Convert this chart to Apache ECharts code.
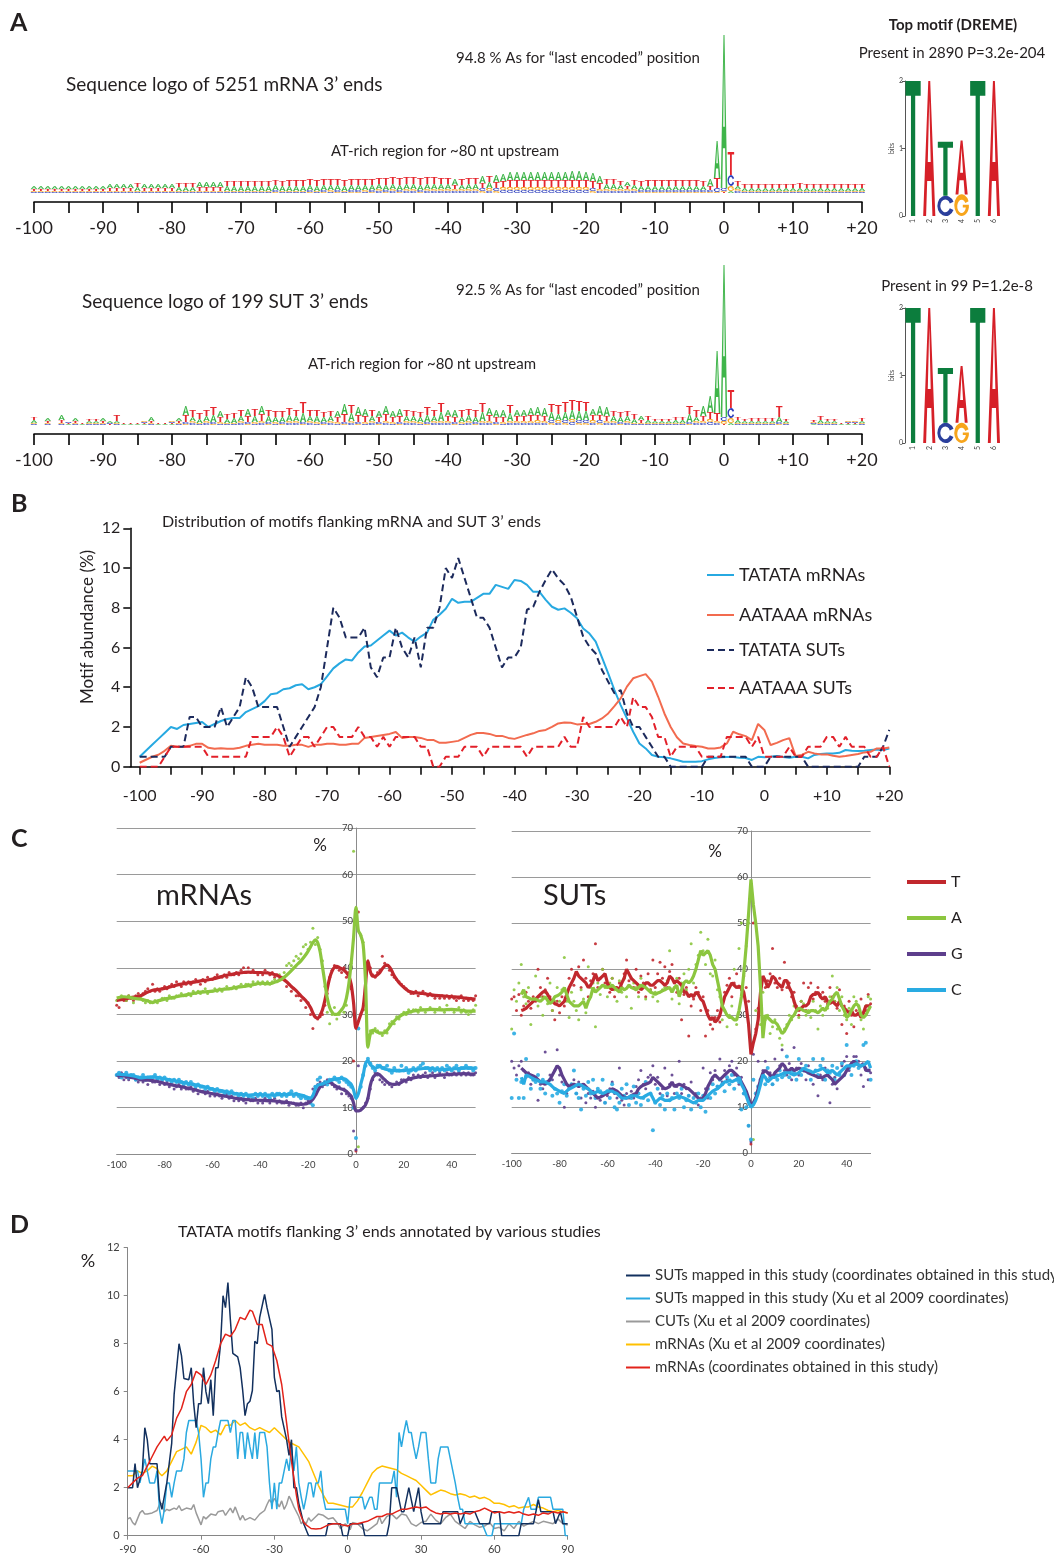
<!DOCTYPE html>
<html>
<head>
<meta charset="utf-8">
<title>3' end motifs</title>
<script src="https://cdn.jsdelivr.net/npm/echarts@6/dist/echarts.min.js"></script>
<style>
  html, body { margin: 0; padding: 0; background: #ffffff; }
  #chart { width: 1054px; height: 1560px; }
</style>
</head>
<body>
<div id="chart"></div>
<script>
const FONT = 'Lato, "Open Sans", "DejaVu Sans", sans-serif';
const INK = '#231f20';

// ---------- Panel A: sequence logos, letter heights in bits, positions -100..+20 ----------
const mrnaLogoA = [.03,.03,.03,.03,.03,.03,.03,.03,.03,.03,
  .03,.04,.04,.04,.04,.04,.04,.04,.04,.04,
  .04,.04,.04,.04,.05,.05,.05,.05,.05,.05,
  .05,.05,.05,.05,.05,.05,.05,.05,.05,.05,
  .05,.05,.05,.05,.05,.05,.05,.05,.05,.05,
  .05,.05,.05,.05,.05,.05,.05,.05,.05,.05,
  .05,.06,.04,.05,.05,.07,.06,.07,.07,.08,
  .08,.08,.08,.08,.08,.08,.08,.08,.09,.09,
  .08,.08,.07,.05,.05,.04,.04,.04,.04,.04,
  .04,.04,.04,.04,.04,.04,.04,.04,.07,.37,
  1.53,.02,.03,.03,.03,.03,.03,.03,.03,.03,
  .03,.03,.03,.03,.03,.03,.03,.03,.03,.03,.03];
const mrnaLogoT = [.02,.02,.02,.02,.02,.02,.02,.02,.02,.02,
  .02,.03,.03,.03,.03,.04,.03,.03,.03,.03,
  .03,.04,.04,.04,.04,.04,.04,.04,.05,.05,
  .05,.05,.05,.05,.05,.05,.05,.06,.06,.06,
  .06,.06,.06,.06,.06,.06,.06,.06,.06,.06,
  .06,.07,.07,.07,.07,.07,.07,.07,.07,.06,
  .06,.04,.06,.06,.06,.05,.06,.06,.06,.07,
  .07,.07,.07,.07,.07,.07,.07,.07,.07,.07,
  .07,.07,.06,.05,.05,.04,.03,.05,.05,.06,
  .06,.06,.06,.06,.06,.06,.06,.05,.04,.10,
  .01,.23,.05,.04,.04,.04,.04,.04,.04,.04,
  .04,.05,.04,.04,.04,.04,.04,.04,.04,.04,.04];
const mrnaLogoC = [.01,.01,.01,.01,.01,.01,.01,.01,.01,.01,
  .01,.01,.01,.01,.01,.01,.01,.01,.01,.01,
  .01,.01,.01,.01,.01,.01,.01,.01,.01,.01,
  .01,.01,.01,.01,.01,.02,.01,.01,.01,.01,
  .02,.01,.02,.01,.02,.01,.02,.02,.01,.02,
  .02,.02,.02,.02,.02,.02,.02,.02,.02,.02,
  .02,.02,.02,.02,.02,.03,.02,.03,.03,.03,
  .03,.03,.03,.03,.03,.03,.03,.03,.03,.03,
  .03,.03,.02,.02,.02,.02,.02,.02,.02,.02,
  .02,.02,.02,.02,.02,.02,.02,.02,.02,.04,
  .03,.11,.02,.01,.01,.01,.01,.01,.01,.01,
  .01,.01,.01,.01,.01,.01,.01,.01,.01,.01,.01];
const mrnaLogoG = [.01,.01,.01,.01,.01,.01,.01,.01,.01,.01,
  .01,.01,.01,.01,.01,.01,.01,.01,.01,.01,
  .01,.01,.01,.01,.01,.01,.01,.01,.01,.01,
  .01,.01,.01,.01,.01,.01,.01,.01,.01,.01,
  .01,.01,.01,.02,.01,.01,.01,.01,.02,.01,
  .02,.01,.02,.01,.02,.02,.01,.02,.02,.02,
  .02,.02,.02,.02,.02,.02,.03,.02,.03,.03,
  .03,.03,.03,.03,.03,.03,.03,.03,.03,.03,
  .03,.02,.02,.02,.02,.02,.02,.02,.01,.01,
  .01,.01,.01,.01,.01,.01,.01,.01,.01,.01,
  .01,.05,.02,.01,.01,.01,.01,.01,.01,.01,
  .01,.01,.01,.01,.01,.01,.01,.01,.01,.01,.01];

const sutLogoA = [.03,0,.03,0,.05,.01,.03,.01,.02,.02,
  .03,.02,.02,.01,.01,.01,.01,.04,.01,.01,
  .01,.03,.09,.04,.04,.05,.07,.06,.04,.05,
  .05,.07,.06,.08,.06,.05,.05,.06,.05,.09,
  .05,.06,.05,.05,.06,.1,.08,.08,.07,.05,
  .06,.08,.06,.07,.05,.05,.05,.07,.05,.09,
  .06,.07,.05,.06,.05,.09,.07,.07,.07,.08,
  .06,.06,.07,.08,.08,.08,.06,.08,.09,.09,
  .09,.06,.09,.09,.05,.05,.05,.04,.04,.03,
  .02,.02,.02,.03,.03,.08,.04,.1,.16,.62,
  1.52,.02,.03,.02,.02,.02,.02,.02,.05,.02,
  0,0,0,.01,.03,.02,.02,.01,.01,.01,.02];
const sutLogoT = [.03,0,.02,0,.03,.01,.02,.01,.02,.02,
  .02,.01,.06,.01,.01,.01,.01,.02,.01,.01,
  .01,.02,.07,.07,.06,.06,.08,.05,.05,.05,
  .06,.06,.07,.07,.06,.06,.06,.07,.06,.11,
  .06,.06,.05,.05,.05,.08,.08,.07,.06,.06,
  .05,.07,.05,.06,.06,.05,.05,.08,.06,.09,
  .05,.05,.07,.06,.07,.09,.06,.05,.05,.08,
  .05,.05,.06,.05,.05,.08,.09,.1,.1,.1,
  .09,.05,.05,.05,.05,.05,.05,.05,.03,.04,
  .02,.02,.02,.03,.03,.08,.07,.05,.07,.08,
  .01,.18,.03,.02,.03,.03,.03,.03,.11,.02,
  0,0,0,.02,.04,.02,.02,.01,.01,.01,.03];
const sutLogoC = [.01,0,.01,0,.01,.01,.01,0,.01,.01,
  .01,.01,.01,0,0,0,.01,.01,0,0,
  .01,.01,.02,.02,.01,.02,.02,.01,.01,.01,
  .02,.02,.01,.02,.02,.01,.02,.02,.02,.02,
  .02,.01,.02,.02,.01,.02,.02,.02,.01,.02,
  .02,.02,.01,.02,.02,.02,.01,.02,.02,.02,
  .02,.02,.01,.02,.02,.02,.02,.02,.01,.02,
  .02,.02,.02,.02,.02,.03,.02,.03,.03,.03,
  .03,.02,.03,.02,.02,.02,.02,.01,.01,.01,
  .01,.01,.01,.01,.01,.02,.02,.02,.03,.02,
  .04,.10,.01,.01,.01,.01,.01,.01,.02,.01,
  0,0,0,.01,.01,.01,.01,0,.01,.01,.01];
const sutLogoG = [.01,0,.01,0,.01,0,.01,0,.01,.01,
  .01,0,.01,0,0,0,.01,.01,0,0,
  .01,.01,.01,.02,.01,.02,.01,.02,.01,.01,
  .02,.01,.02,.02,.01,.02,.01,.02,.02,.01,
  .02,.02,.01,.02,.02,.01,.02,.01,.02,.02,
  .01,.02,.02,.01,.02,.02,.02,.01,.02,.02,
  .02,.01,.02,.02,.01,.02,.02,.01,.02,.02,
  .02,.02,.02,.03,.02,.02,.03,.02,.03,.02,
  .02,.03,.02,.02,.02,.01,.02,.01,.01,.01,
  .01,.01,.01,.01,.01,.01,.02,.02,.03,.02,
  .03,.05,.01,.01,.01,.01,.01,.01,.01,.01,
  0,0,0,.01,.01,.01,.01,0,.01,.01,.01];

// DREME top motif TATATA (bits), positions 1..6
const motif1A = [0, 2, 0, 0.8, 0, 2];
const motif1T = [2, 0, 0.8, 0, 2, 0];
const motif1C = [0, 0, 0.3, 0, 0, 0];
const motif1G = [0, 0, 0, 0.32, 0, 0];
const motif2A = [0, 2, 0, 0.84, 0, 2];
const motif2T = [2, 0, 0.81, 0, 2, 0];
const motif2C = [0, 0, 0.3, 0, 0, 0];
const motif2G = [0, 0, 0, 0.3, 0, 0];

// ---------- Panel B: motif abundance (%), positions -100..+20 ----------
const tatataMrna = [0.5,0.8,1.1,1.4,1.7,2.0,1.9,2.1,2.15,2.2,
  2.25,2.0,2.15,2.3,2.4,2.45,2.45,2.75,2.9,3.05,
  3.3,3.65,3.7,3.9,3.95,4.1,4.15,3.9,4.0,4.15,
  4.55,4.95,5.2,5.4,5.35,5.75,6.05,6.1,6.35,6.6,
  6.85,6.6,6.75,6.5,6.3,6.55,6.75,7.4,7.65,7.95,
  8.45,8.25,8.3,8.3,8.5,8.7,8.7,9.15,9.05,8.95,
  9.4,9.35,9.15,8.8,8.8,8.4,8.05,7.9,7.97,7.75,
  7.47,6.96,6.7,6.3,5.5,4.7,3.86,3.1,2.43,1.76,
  1.17,0.92,0.59,0.5,0.47,0.42,0.34,0.25,0.25,0.25,
  0.28,0.37,0.44,0.47,0.49,0.49,0.45,0.44,0.34,0.5,
  0.47,0.5,0.54,0.49,0.45,0.5,0.5,0.42,0.59,0.64,
  0.67,0.67,0.7,0.84,0.8,0.79,0.8,0.84,0.87,0.84,0.92];
const aataaaMrna = [0.2,0.35,0.5,0.6,0.8,1.05,1.0,1.0,1.05,1.15,
  1.15,0.95,0.9,0.93,0.9,0.9,0.95,1.05,1.1,1.15,
  1.1,1.1,1.1,1.05,1.05,1.1,1.1,1.0,1.1,1.1,
  1.15,1.15,1.1,1.1,1.15,1.15,1.45,1.5,1.55,1.6,
  1.65,1.75,1.45,1.5,1.5,1.45,1.35,1.35,1.2,1.2,
  1.25,1.3,1.45,1.6,1.7,1.7,1.65,1.55,1.55,1.45,
  1.4,1.5,1.6,1.68,1.8,1.85,2.0,2.18,2.23,2.21,
  2.13,2.15,2.15,2.26,2.43,2.68,3.05,3.44,4.03,4.45,
  4.56,4.66,4.28,3.52,2.68,2.0,1.48,1.17,1.09,1.04,
  1.0,0.92,0.92,0.97,1.17,1.76,1.63,1.54,1.34,2.15,
  1.85,1.09,1.2,1.34,1.44,0.54,0.59,0.75,0.67,0.62,
  0.62,0.55,0.5,0.54,0.59,0.64,0.72,0.75,0.92,0.92,0.97];
const tatataSut = [0.5,0.5,0.5,0.5,0.5,1.0,1.0,1.0,2.5,2.5,
  2.0,2.0,2.0,3.0,2.0,2.5,3.0,4.5,4.0,3.0,
  3.0,3.0,3.0,2.0,1.0,1.5,2.0,2.5,3.0,4.0,
  6.0,8.0,7.5,6.5,6.5,6.5,7.0,5.0,4.5,5.5,
  5.5,7.0,6.0,5.5,6.5,5.0,7.0,7.0,8.0,10.0,
  9.5,10.5,9.5,8.5,7.5,7.5,7.0,6.0,5.0,5.5,
  5.5,6.0,7.9,8.05,8.8,9.4,9.93,9.48,9.15,8.56,
  7.55,6.54,6.04,5.7,4.87,4.28,3.69,3.86,2.68,2.0,
  2.0,1.5,1.0,0.5,0.5,0,0,0,0,0,
  0,0.5,0.5,0.5,0.5,0.5,0.5,0.5,0,0,
  0,0.5,0.5,0.5,0.5,0.5,0.5,0,0,0,
  0,0,0,0,0,0,0.5,0.5,0.5,1.0,1.85];
const aataaaSut = [0,0,0,0,0.5,1.0,1.0,1.0,1.0,1.0,
  1.0,0.5,0.5,0.5,0.5,0.5,0.5,0.5,1.5,1.5,
  1.5,1.5,2.0,1.5,0.5,1.0,1.5,1.5,1.0,1.5,
  2.0,2.0,1.5,1.5,1.5,2.0,1.5,1.5,1.0,1.5,
  1.0,1.5,1.5,1.5,1.5,1.0,1.0,0,0,0.5,
  0.5,0.5,1.0,1.0,1.0,0.5,1.0,1.0,1.0,1.0,
  1.0,1.0,0.5,1.0,1.0,1.0,1.0,1.0,1.5,1.0,
  1.0,2.5,2.0,2.0,2.0,2.0,2.0,2.5,2.0,3.5,
  3.0,3.0,2.5,1.5,1.5,0.5,1.0,1.0,1.0,1.0,
  0.5,0.5,0.5,0.5,1.5,1.5,1.5,1.5,1.0,1.5,
  0.5,0.5,0.5,0.5,1.0,0.5,0.5,1.0,1.0,1.0,
  1.5,1.5,1.0,1.5,1.0,1.0,1.0,0.5,0.5,1.0,0];

// ---------- Panel C: nucleotide composition (%) ----------
// smoothed profiles for mRNAs, [position, %]
const mrnaLineT = [[-100,33],[-97,33.3],[-95,33.5],[-92,33.8],[-90,34],[-87,34.8],[-85,35.2],[-82,35.4],[-80,35.6],[-77,36],[-75,36.3],[-72,36.6],[-70,36.8],[-67,37],[-65,37.2],[-62,37.4],[-60,37.6],[-57,38],[-55,38.3],[-52,38.6],[-50,38.8],[-47,39],[-45,39.1],[-42,39],[-40,39],[-37,38.9],[-35,38.7],[-33,38.4],[-31,37.8],[-29,37],[-27,36],[-25,35.1],[-23,34],[-21,33],[-19,31.5],[-18,30.3],[-17,29.4],[-16,29.2],[-15,29.8],[-14,31],[-13,33],[-12,35.5],[-11,37.8],[-10,39.3],[-9,40.1],[-8,40.3],[-7,40.1],[-6,39.8],[-5,39.5],[-4,39],[-3,38.3],[-2,36.5],[-1,32.5],[0,27],[1,28.5],[2,30],[3,31.5],[4,36.5],[5,41.5],[6,39.2],[7,38.2],[8,38.2],[9,38.5],[10,39],[11,39.8],[12,40.4],[13,40.6],[14,40.2],[15,39.3],[16,38.3],[17,37.5],[18,36.8],[20,35.8],[22,35],[24,34.7],[26,34.6],[28,34.5],[30,34.3],[33,34.1],[36,34],[40,33.8],[43,33.7],[46,33.5],[50,33.3]];
const mrnaLineA = [[-100,33.5],[-97,33.8],[-95,33.7],[-92,33.4],[-90,33.3],[-87,32.9],[-85,32.6],[-83,32.9],[-80,33.3],[-77,33.6],[-75,33.8],[-72,34.1],[-70,34.3],[-67,34.6],[-65,34.8],[-62,34.9],[-60,35],[-57,35.3],[-55,35.4],[-52,35.6],[-50,35.8],[-47,36],[-45,36.2],[-42,36.5],[-40,36.7],[-37,36.6],[-35,36.7],[-33,37.1],[-31,37.6],[-29,38.4],[-27,39.4],[-25,40.5],[-23,41.5],[-21,42.8],[-20,43.6],[-19,44.5],[-18,45.4],[-17,46],[-16,45.4],[-15,43.5],[-14,40.2],[-13,36.8],[-12,33.5],[-11,31.5],[-10,30.5],[-9,30],[-8,30],[-7,30.4],[-6,31],[-5,31.8],[-4,33.5],[-3,36.5],[-2,41],[-1,46.5],[0,53],[1,48],[2,47],[3,45],[4,37],[5,23],[6,25.8],[7,26.6],[8,26.5],[9,26.2],[10,26],[11,26],[12,26.1],[13,26.6],[14,27.3],[15,28],[16,28.6],[17,29.1],[18,29.5],[20,30.1],[22,30.5],[25,30.8],[28,31],[32,31.1],[36,31],[40,31.1],[44,30.9],[47,30.7],[50,30.7]];
const mrnaLineG = [[-100,17],[-97,16.8],[-95,16.6],[-92,16.3],[-90,16],[-87,15.9],[-85,15.8],[-82,15.5],[-80,15.2],[-77,14.9],[-75,14.7],[-72,14.4],[-70,14.2],[-67,13.8],[-65,13.5],[-62,13.2],[-60,13],[-57,12.7],[-55,12.5],[-52,12.2],[-50,12],[-47,11.8],[-45,11.7],[-42,11.6],[-40,11.6],[-37,11.5],[-35,11.5],[-32,11.3],[-30,11.2],[-27,11],[-25,10.8],[-23,10.7],[-21,10.8],[-20,11],[-19,11.3],[-18,11.8],[-17,12.6],[-16,13.6],[-15,14.5],[-14,15],[-13,15.3],[-12,15.5],[-11,15.5],[-10,15.2],[-9,14.8],[-8,14.5],[-7,14.2],[-6,14],[-5,13.8],[-4,13.5],[-3,13],[-2,12.5],[-1,11],[0,9.3],[1,9.3],[2,9.5],[3,10],[4,10.6],[5,12],[6,14.8],[7,16.4],[8,17],[9,17.3],[10,17],[11,16.5],[12,16],[13,15.5],[14,15.2],[16,15],[18,15.2],[20,15.7],[22,16.1],[25,16.5],[28,16.7],[31,16.8],[35,17],[38,17.1],[41,17.2],[45,17.3],[48,17.2],[50,17.2]];
const mrnaLineC = [[-100,17.2],[-97,17.1],[-95,17],[-92,16.7],[-90,16.4],[-88,16.5],[-85,16.6],[-82,16.4],[-80,16.2],[-77,15.9],[-75,15.7],[-72,15.4],[-70,15.2],[-67,14.9],[-65,14.7],[-62,14.3],[-60,14],[-57,13.7],[-55,13.5],[-52,13.2],[-50,13],[-47,12.8],[-45,12.7],[-42,12.8],[-40,12.8],[-37,12.7],[-35,12.7],[-32,12.8],[-30,12.8],[-27,12.9],[-25,12.9],[-23,12.7],[-21,12.4],[-20,12.2],[-19,12],[-18,12.6],[-17,14],[-16,14.8],[-15,15],[-14,15.1],[-12,15.5],[-10,16],[-8,16.2],[-6,16.3],[-5,16.2],[-4,16],[-3,15.5],[-2,15],[-1,13.8],[0,12],[1,13],[2,15],[3,17],[4,19.5],[5,20.1],[6,19.2],[7,18.8],[8,18.5],[10,18.8],[12,18.3],[15,18],[18,17.9],[20,18],[23,18.1],[25,18.2],[28,18.4],[30,18.5],[33,18.3],[35,18.2],[38,18.2],[40,18.3],[43,18.4],[45,18.5],[48,18.5],[50,18.5]];

// per-position composition for mRNAs, positions -100..50
const mrnaDotT = [32,31.5,33.5,33,33,34,33.5,33,34,34.5,
  34,34.5,35,35.5,35,36.5,35,35.5,35,35.5,
  36,35.5,36,36.5,36,37,36.5,36,37,36.5,
  37,36.5,37,37.5,37,36.5,37.5,37,38,37.5,
  37.5,38,38.5,38,38,38.5,38,39,38.5,38.5,
  39,38.5,39.5,40,39,40,39,39.5,39,38.5,
  39,38.5,39.5,39,38.5,39,38,38.5,37.5,38,
  37.5,36,36.5,35,35.5,34,34,33,33.5,31.5,
  32.5,30,27,29.5,29,29.5,30,32,34.5,38,
  39.5,40.5,40,39.5,39,40,38,39,35.5,20,
  0.7,52,30,31,37,41,40,38.5,38,39,
  39.5,42.5,41,40.5,39.5,38.5,38,37.5,37,36.5,
  36,35.5,35,34.5,34.5,35,34,34.5,35,34.5,
  34,34.5,34,33.5,34,33.5,34,33.5,34,33.5,
  34,33.5,33,33.5,34,33,33.5,33,33.5,33,34];
const mrnaDotA = [33,33.5,34,33.5,33,34,33.5,32.5,33.5,34,
  33.5,33,32.5,33,32.5,32.5,33,32.5,33,33.5,
  33.5,33,34,33.5,33.5,34,34,34.5,34,34,
  34.5,34,35,34.5,35,34.5,35,35.5,34.5,35,
  35,35.5,35,35.5,35,35.5,36,35.5,35.5,36,
  35.5,36,36.5,36,36.5,36.5,36,37,36.5,37,
  36.5,37,36.5,37,36.5,37,37.5,37,38.5,38,
  39,40.5,41,40.5,41.5,42.5,42,43,44.5,45,
  44,45.5,48.5,45,46.5,44,41.5,36,30.5,28,
  30,31.5,29,30,31,30.5,32,36,41,65,
  94.8,1.6,47,45.5,31,25,26.5,26,27,26.5,
  26,25.5,26.5,26,28,28.5,28,29.5,29,30,
  30.5,30,31,30.5,31,31,30.5,31.5,31,30.5,
  31,31.5,31,30.5,31,31.5,31,30.5,32,31,
  31,30.5,31,31.5,30.5,31,30.5,30,30.5,31,32];
const mrnaDotG = [17,16.5,17.5,16,16.5,16,17,16.5,16,15.5,
  16,15.5,16.5,15,16,15.5,15.5,16,15,15.5,
  15,15.5,14.5,15,14,14.5,15,14,14.5,14,
  14,14.5,13.5,14,13,13.5,13.5,13,13.5,12.5,
  13,12.5,13,12.5,12,12.5,13,12,12.5,11.5,
  12,11.5,12,11.5,11,12,11.5,11.5,12,11,
  11.5,11,12,11.5,11,11.5,12,11,11.5,11,
  11,11.5,10.5,11,11,10.5,10.5,11,10,11,
  11.5,12,14,14.5,15,15.5,14.5,15,16,15.5,
  15,14.5,14,14.5,13,14,13,12.5,12,5,
  1,19,9.5,10,11,12,14,16,17.5,17,
  16,15.5,15,15.5,15,14.5,15,15.5,15,16,
  16,15.5,16.5,16,17,16.5,17,16.5,17,17.5,
  16.5,17,17.5,16.5,17,17.5,17,16.5,17.5,17,
  17,17.5,17,17.5,17,17.5,17,17.5,17,17,17.5];
const mrnaDotC = [17,17.5,16.5,17,17.5,16.5,17,17,16,16.5,
  16.5,17,16,16.5,16.5,16.5,17,16,16.5,16,
  16.5,16,16,15.5,16,15.5,16,15.5,15,15.5,
  15,15.5,15,14.5,15,14.5,14.5,14,14.5,14,
  14,13.5,14,13.5,13.5,13,13.5,13,13.5,13,
  13,12.5,13,12.5,13,12.5,12.5,12,13,12.5,
  13,12.5,13,12.5,12,13,12.5,13,13,12.5,
  13,12.5,13,13.5,12.5,13,12.5,12,12.5,12,
  12,11,10.5,14.5,16,16.5,15,15.5,15,16,
  16,16.5,16,15.5,16.5,16,15.5,15,14.5,10,
  3.5,27,14.5,17,19,20.5,19.5,18.5,18,19,
  19,18.5,18.5,19,18,17.5,18.5,18,18,19,
  18,18.5,17.5,18,18.5,18,18.5,19,19.5,18.5,
  18.5,18,18.5,18,18.5,18,18.5,18,19,18.5,
  18,18.5,19,18,18.5,18.5,19,18.5,18.5,18,18.5];

// smoothed profiles for SUTs, positions -100..50
const sutLineT = [null,null,null,null,31,31.2,31.5,32,32.5,33,
  33.5,34,34.5,35,35.3,34.5,33.5,33,32.5,32.3,
  32,32.5,33,34.5,36,37,38,39.5,38.5,38,
  37.5,37,36,36.5,37.5,39,37.5,38,38.5,39,
  37,36,35.5,36,36,35.5,37,38,40,39,
  38,37.5,37,36.5,35.5,36,37,37,36.5,36.5,
  37,37.5,37.5,37,36.5,37,38.5,38,37,37.5,
  37,36.5,35,35,34,34.5,34,35,34.5,33.5,
  33,31.5,30,29,29.5,28.5,29,30,32,34,
  35,36,37,36.5,36,36.3,36,35,32,28,
  21.5,24,26,29,35,38.5,37.5,36,37,38.5,
  38,37,36.5,36,37.5,37.5,36,35,33,31.5,
  31,31.5,32,32,32.5,34,34.5,34.5,35,34,
  33.5,34,33,32.5,33,32.5,32,33,32,31.5,
  31,30.5,31,30,30,30.5,29.5,30.5,32,32,32];
const sutLineA = [null,null,null,null,34.5,35.5,34,33.8,33.5,33.5,
  33.5,33.2,33,33.5,34,33.2,32.5,33,34,34.2,
  34.5,35,36,34.5,33,32.5,32,32,32,32.5,
  33,31.5,33,34,36,35,35.5,36,36.5,36.3,
  36,36.2,36.5,36,35.5,35,36,35.5,35.8,36.5,
  36,35.8,35.5,36,36.5,36.3,36,35.5,35,34.8,
  34.5,34.8,35,35.3,35.5,35.8,36,35,36,36.5,
  34,35.5,37,37.5,37,37.5,38.5,40,42,44,
  43,43.5,44,43,41,40,37.5,35,32,31,
  30,29.5,29.5,29,29,31,34,39,45,52,
  59.5,54,50,45,36,25,30,29.5,29,28.5,
  28.5,28,27,26,26.5,27.5,28.5,29.5,30,31,
  31.5,31.3,31,30.8,30.5,31,31,30.8,30.5,31,
  31.5,31,32,33,33.5,34.5,35,33.5,32,31,
  29.5,30,31,32,32.5,32,30,29.5,30,31,32];
const sutLineG = [null,null,null,null,18.5,18,17.5,17.2,17,16.8,
  16.5,16,15.5,15.2,15,15.5,16,17,18,19,
  18.5,17,16,15,14.5,14.8,15,14.8,14.5,14.8,
  15,14.5,14,13.5,13,12.5,12,12.2,12.5,12.8,
  13,13.5,14,13.8,13.5,13,12.5,12.2,12,12.2,
  12.5,12.8,13,14,14.5,14.8,15,15.2,15.5,16.5,
  16,15.5,15,14.5,14,14.2,14.5,15.5,14.5,14.8,
  15,14.8,14.5,14.2,14,13.5,13,12.5,12,11.5,
  12,13,14.5,15.5,16.5,17,16.5,16,16.5,17,
  17.5,18,18,17.5,17,16.5,15.5,14.5,13.5,12,
  10.5,11,12,14,16,17.5,18,17.5,17,16.5,
  17.5,18,18.5,19.5,19,18,18,18.5,18,18.2,
  18.5,18.3,18,17.8,17.5,17.2,17,16.8,16.5,16.5,
  16.5,16.8,17,16.5,16,15,15.5,16,16.5,17,
  18,18.8,19.5,20,19.5,19.2,19,19.5,18,18,18];
const sutLineC = [null,null,null,null,16.5,15,17,16.8,16.5,16.2,
  16,15.8,15.5,15.5,15.5,15.2,15,14.5,14,13.8,
  13.5,13.2,13,13.5,14,14.2,14.5,14.8,15,14.8,
  14.5,14.2,14,13.5,13,13.2,13.5,13.2,13,13.2,
  13.5,13.5,13.5,13.2,13,12.5,12,12,12,12.2,
  12.5,12.5,12.5,12.2,12,12.2,12.5,12.8,13,12,
  11,11.5,12,11.8,11.5,11.5,11.5,11.8,12,12.2,
  12.5,12.2,12,11.8,11.5,11.2,11,11.2,11.5,11.5,
  11.5,12,12.5,13,13.5,13.8,14,14.5,15,15.5,
  15.5,16,15.5,15.8,16,16.5,15,14,12.5,11,
  10,10.5,11.5,13,15,17,16.5,15.5,16,16.5,
  16.5,16.8,17,17.2,17.5,17.5,17.5,17.2,17,17.2,
  17.5,18,18.5,18.2,18,17.8,17.5,17.8,18,18.2,
  18.5,18,17.5,17.8,18,17.5,17,17.5,18,18.5,
  19,19,19,19.2,19.5,19.2,19,19.2,19.5,20,18.5];

// per-position composition for SUTs, positions -100..50
const sutDotT = [33.5,34,31,34.5,30,32,35,33,31.5,34,
  33,40,36,34,35.5,38,34,31,29,33,
  30.5,34,32,35,38,40,36.5,39,40.5,36,
  42,38,34,37.5,39,45.5,36,38,40,37,
  36.5,35,38,34,35.5,37,36,39,42,37.5,
  38,36,40,35,38.5,37,34,39,35.5,42,
  36,39,41.5,38,40.5,36,39.5,41,37,35,
  38,29,34.5,36,25.5,32,33.5,36,35,31,
  34,25.5,31,28,27,29.5,31,28.5,33,35,
  36.5,38,34,37,39,36,35.5,38.5,36,33,
  2,50,27,31.5,35.5,38,36,37.5,39,44.5,
  37,36,38,35.5,41.5,36,37,34,35,32,
  30,33,37,31,36,37,33.5,35,36,34.5,
  35,33,32.5,36,34,33,31.5,35.5,28,32,
  26,33,30,27.5,31,32,33.5,30.5,31,34.5,32.5];
const sutDotA = [27,35.5,33,37,41,34,32.5,36,28,33.5,
  38.5,32,34,30,35,32.5,37,31,33,36,
  33,35.5,42.5,33,29.5,35,33,31,29,35.5,
  33.5,30.5,40.5,36,37,27.5,37,34.5,40,36,
  34,37,38,35.5,33,37.5,35,38,34,36.5,
  31.5,37,36,34,38,36.5,33.5,37,35.5,34,
  35,33,37.5,35.5,36,37.5,44,33.5,36,38,
  32.5,37,39,35.5,40,45.5,37,41,43,48,
  44,41,46.5,39,38.5,42,35.5,34,29,31,
  27.5,30,32,40,28,44.5,50,39,45,50,
  92.5,3,31,30.5,28,35,29,30,26,27.5,
  29,27,25,23.5,27,28,30,29,32,31,
  29.5,33,32.5,30,31,29.5,33,31,27,32,
  30,33.5,31.5,34,38.5,33,36,31,34,30,
  29,31.5,28,34,33,30.5,29,27,32,34,33.5];
const sutDotG = [20,18.5,17,19,20,18,16.5,17.5,15,16,
  16.5,11.5,15,14,22,15.5,17,16,18,22.5,
  17,15.5,10,13,14.5,15,16,13,15.5,12,
  14.5,11,13,12,13.5,10,12,11.5,13,11,
  12.5,14,15.5,13,12,18.5,11.5,10.5,13,12,
  13.5,12,14.5,16,18,15,14,16.5,17,19,
  15,16.5,13,14,18.5,12.5,15,17,13,14.5,
  20,13,15,14,12.5,15.5,11,13,10.5,12,
  18.5,14,12,17.5,16,18,14.5,20.5,15.5,18,
  16,19,20,17,18.5,15,16.5,13,12.5,6,
  2.5,21.5,12,20,15.5,18,20,16,17.5,15,
  20.5,17,19,22.5,18,17,19.5,16,23,18.5,
  17,19.5,18,16,19,17.5,15,18,12.5,17,
  16,18.5,17,11,15,16.5,14,17.5,19,20,
  21,18,19.5,21,21,20,17,14.5,18.5,16,17.5];
const sutDotC = [12,26,16,12,15.5,12,20.5,17,14,16,
  15.5,17,14,16,13,15.5,16,12.5,14,13,
  11,13.5,15,12.5,14,15,18,13,12,9.5,
  14,12.5,15.5,13,16,12,14,13.5,16,11,
  13.5,12,15,10,9.5,11,14,12.5,15,10.5,
  12,14.5,11,13,10.5,12,15.5,11.5,13,5,
  11,14,10.5,12.5,9.5,13,11.5,12,9.5,13,
  12,14,10,11.5,12.5,9.5,12,11,13,10,
  12.5,9,14,12,15,13,14.5,16,15,13.5,
  16.5,15,17,14,16,15.5,9.5,13,10,6,
  3,16,13,14.5,16,17,15,18.5,16.5,15,
  17,16,18,16.5,17,21,16.5,18,17.5,16,
  20.5,17,18,19,17.5,16,20.5,18,17,19,
  20.5,16,18,17.5,19,16,18.5,17,19.5,17,
  23.5,18.5,17,19,20,18.5,19,23.5,24,18,16];

// ---------- Panel D: TATATA motif abundance (%), [position, %] ----------
const sutsThisStudy = [[-90,2],[-88,2],[-87,3],[-86,2],[-84,2.7],[-83,4.5],[-82,4],[-81,3],[-78,3],[-77,1.5],[-76,1.1],[-74,2.2],[-72,3.85],[-71,5.9],[-69,8],[-68,7.5],[-67,6.55],[-65,6.5],[-64,7],[-63,5.5],[-62,4.5],[-61,5.5],[-60,5.5],[-59,7],[-58,6],[-57,5.5],[-56,6.5],[-55,5],[-54,7],[-53,7],[-52,8],[-51,10],[-50,9.5],[-49,10.55],[-48,9],[-47,7.6],[-45,7.45],[-44,7],[-43,6.1],[-42,5],[-41,5.5],[-40,5.6],[-39,6.05],[-38,8.1],[-37,8],[-36,9.1],[-34,10.05],[-33,9.5],[-31,8.6],[-30,6.6],[-29,6],[-28,6.05],[-27,4.95],[-25,4],[-24,3.35],[-23,4],[-22,2],[-21,2],[-20,1.35],[-18,0.5],[-16,0],[-9,0],[-8,0.5],[-3,0.5],[-2,0],[0,0],[1,0.5],[6,0.5],[7,0],[16,0],[17,0.5],[18,2],[20,2],[21,1.5],[22,1],[23,1],[25,2],[27,1],[29,2],[30,1],[31,0.5],[38,0.5],[39,1],[45,1],[46,0.5],[48,1],[52,1],[54,0.5],[58,0.5],[59,1],[62,1],[63,0],[70,0],[71,0.5],[76,0.5],[78,1.5],[79,1],[84,1],[85,0.5],[87,1],[88,0.5],[90,0.5]];
const sutsXu = [[-90,2.7],[-86,2.7],[-85,2.2],[-84,2.7],[-83,3.2],[-82,2.7],[-81,2.2],[-79,2.2],[-78,2.7],[-77,1.1],[-76,0.5],[-75,1.1],[-74,2.2],[-73,2.2],[-72,1.6],[-71,2.2],[-70,2.7],[-68,2.7],[-67,3.2],[-66,4.3],[-65,4.8],[-62,4.8],[-61,4.3],[-60,3.2],[-59,1.6],[-58,2.2],[-57,2.2],[-56,3.2],[-55,3.7],[-54,3.7],[-53,4.3],[-52,4.8],[-49,4.8],[-48,4.3],[-47,4.8],[-46,4.8],[-45,3.2],[-44,4.3],[-43,4.3],[-42,3.2],[-41,4.3],[-40,3.7],[-39,3.2],[-38,4.3],[-37,3.2],[-36,4.3],[-34,4.3],[-33,3.7],[-32,2.2],[-31,1.1],[-30,2.2],[-29,1.1],[-28,2.2],[-27,2.2],[-26,2.7],[-25,3.2],[-24,2.7],[-23,3.7],[-22,2.7],[-21,3.7],[-20,2.2],[-19,1.6],[-18,1.1],[-17,1.6],[-16,2.2],[-15,2.2],[-14,1.6],[-13,2.2],[-12,2.2],[-11,2.7],[-10,1.6],[-9,1.1],[-1,1.1],[0,0.5],[1,1.6],[6,1.6],[7,1.1],[9,1.6],[10,1.6],[11,1.1],[12,1.1],[13,2.2],[18,2.2],[19,2.7],[20,1.6],[21,4.3],[22,3.7],[23,4.3],[24,4.8],[25,4.3],[26,4.3],[27,3.7],[28,3.2],[29,3.7],[30,4.3],[32,4.3],[33,3.2],[34,2.2],[36,2.2],[37,3.2],[38,3.7],[41,3.7],[42,3.2],[43,2.7],[44,2.2],[45,1.6],[46,1.1],[47,1.1],[48,0.5],[55,0.5],[57,0],[59,0],[60,0.5],[71,0.5],[72,1.1],[74,1.6],[75,1.1],[77,1.1],[78,1.6],[83,1.6],[84,1.1],[86,1.1],[88,1.1],[89,0],[90,0]];
const cutsXu = [[-90,0.7],[-89,0.75],[-88,0.55],[-87,0.45],[-86,0.7],[-85,0.95],[-84,1.05],[-83,0.9],[-82,0.9],[-80,0.95],[-78,1.05],[-77,1.3],[-76,1.35],[-75,1.0],[-74,1.1],[-73,1.05],[-71,1.15],[-70,1.1],[-69,1.25],[-68,1.05],[-66,1.15],[-64,1.1],[-63,1.3],[-62,0.95],[-61,0.7],[-60,0.45],[-59,0.8],[-58,0.7],[-56,0.9],[-54,0.85],[-53,1.0],[-51,1.05],[-50,0.85],[-49,1.0],[-48,1.15],[-47,0.95],[-46,1.2],[-44,0.65],[-43,0.85],[-42,0.65],[-40,0.75],[-38,0.65],[-36,0.9],[-34,1.05],[-33,1.3],[-32,1.5],[-31,1.35],[-30,1.55],[-29,1.4],[-28,1.2],[-27,1.45],[-26,1.1],[-25,1.3],[-24,1.65],[-23,1.45],[-22,1.2],[-21,1.0],[-20,0.8],[-19,0.5],[-18,0.6],[-17,0.5],[-16,0.75],[-15,0.6],[-13,0.8],[-12,0.9],[-10,0.85],[-8,0.7],[-6,0.75],[-4,0.5],[-3,0.3],[-1,0.5],[0,0.4],[1,0.25],[2,0.55],[4,0.5],[6,0.3],[8,0.2],[10,0.35],[12,0.5],[13,0.8],[14,0.5],[16,0.8],[18,0.9],[20,0.7],[22,0.9],[24,0.85],[26,0.5],[28,0.4],[30,0.55],[32,0.6],[34,0.9],[36,0.65],[38,0.5],[40,0.75],[42,0.9],[44,0.6],[46,0.45],[48,0.3],[50,0.6],[52,0.45],[54,0.35],[56,0.4],[58,0.55],[60,0.3],[62,0.35],[64,0.2],[66,0.5],[68,0.3],[70,0.6],[72,0.4],[74,0.5],[76,0.6],[78,0.5],[80,0.6],[82,0.55],[84,0.5],[86,0.7],[88,0.5],[90,0.45]];
const mrnasXu = [[-90,2.5],[-88,2.5],[-86,2.7],[-84,2.6],[-82,2.7],[-80,2.9],[-78,2.8],[-77,2.6],[-76,2.5],[-74,2.7],[-72,3.1],[-70,3.5],[-68,3.6],[-66,3.7],[-64,3.4],[-62,3.9],[-60,4.6],[-58,4.5],[-56,4.3],[-54,4.4],[-52,4.2],[-50,4.6],[-48,4.6],[-46,4.8],[-44,4.6],[-42,4.7],[-40,4.5],[-38,4.4],[-36,4.5],[-34,4.4],[-32,4.3],[-30,4.5],[-28,4.3],[-26,4.1],[-24,3.9],[-22,3.8],[-20,3.7],[-18,3.4],[-16,3.1],[-14,2.6],[-12,2.1],[-10,1.7],[-8,1.35],[-6,1.35],[-4,1.3],[-2,1.25],[0,1.2],[2,1.2],[4,1.45],[6,1.8],[8,2.2],[10,2.6],[12,2.8],[14,2.9],[16,2.85],[18,2.8],[20,2.75],[22,2.6],[24,2.5],[26,2.4],[28,2.3],[30,2.1],[32,1.9],[34,1.7],[36,1.8],[38,1.9],[40,1.85],[42,1.75],[44,1.7],[46,1.75],[48,1.7],[50,1.6],[52,1.65],[54,1.55],[56,1.6],[58,1.5],[60,1.35],[62,1.35],[64,1.3],[66,1.2],[68,1.25],[70,1.15],[72,1.2],[74,1.2],[76,1.3],[78,1.2],[80,1.15],[82,1.05],[84,1.0],[86,1.05],[88,1.0],[90,0.95]];
const mrnasThisStudy = [[-90,2.0],[-88,2.2],[-86,2.4],[-84,2.5],[-82,2.9],[-80,3.3],[-78,3.7],[-76,4.0],[-75,4.15],[-74,3.95],[-72,4.2],[-70,4.9],[-68,5.3],[-66,6.0],[-64,6.3],[-62,6.85],[-60,6.7],[-58,6.3],[-56,6.7],[-54,7.3],[-52,8.0],[-50,8.4],[-48,8.3],[-46,8.6],[-44,9.1],[-42,9.0],[-40,9.4],[-39,9.35],[-37,8.8],[-35,8.8],[-33,8.0],[-31,7.9],[-29,7.3],[-28,6.8],[-27,6.3],[-26,5.5],[-25,4.7],[-24,3.9],[-23,3.1],[-22,2.4],[-21,1.7],[-20,1.1],[-19,0.8],[-18,0.55],[-17,0.45],[-15,0.3],[-13,0.28],[-11,0.3],[-10,0.35],[-8,0.45],[-6,0.5],[-4,0.5],[-2,0.45],[0,0.4],[2,0.5],[4,0.5],[6,0.55],[8,0.6],[10,0.7],[12,0.8],[14,0.8],[16,0.9],[18,0.9],[20,1.0],[22,1.1],[24,1.1],[26,1.15],[28,1.2],[30,1.15],[32,1.2],[34,1.05],[36,0.95],[38,0.9],[40,0.95],[42,0.9],[44,0.95],[46,0.9],[48,0.95],[50,0.9],[52,1.0],[54,1.05],[56,1.15],[58,1.05],[60,0.95],[62,1.0],[64,0.95],[66,1.0],[68,0.95],[70,1.0],[72,0.9],[74,0.85],[76,0.9],[78,0.85],[80,0.95],[82,0.9],[84,1.0],[86,0.95],[88,1.0],[90,0.95]];

// tick positions
const logoTicks = [-100,-90,-80,-70,-60,-50,-40,-30,-20,-10,0,10,20];
const fiveTicks = [-100,-95,-90,-85,-80,-75,-70,-65,-60,-55,-50,-45,-40,-35,-30,-25,-20,-15,-10,-5,0,5,10,15,20];
const motifPositions = [1, 2, 3, 4, 5, 6];

// ---------- helpers ----------
function range(a, b) { const out = []; for (let v = a; v <= b; v++) out.push(v); return out; }
const pos121 = range(-100, 20);
const pos151 = range(-100, 50);
function zipXY(xs, ys) {
  const out = [];
  ys.forEach((v, i) => { if (v !== null && v !== undefined) out.push([xs[i], v]); });
  return out;
}
const signed = v => (v > 0 ? '+' + v : String(v));

// letter outlines in a 100x100 box: A, T, C, G
const GLYPHS = [
  'M0,100 L42,0 L58,0 L100,100 L76,100 L67,74 L33,74 L24,100 Z M38,60 L62,60 L50,14 Z',
  'M0,0 L100,0 L100,11 L64,11 L64,100 L36,100 L36,11 L0,11 Z',
  'M94,30 A46,50 0 1 0 94,70 L74,62 A27,31 0 1 1 74,38 Z',
  'M94,30 A46,50 0 1 0 96,58 L96,46 L58,46 L58,58 L77,58 A27,31 0 1 1 74,38 Z'
];
const LOGO_COLORS = ['#3fb54a', '#e5262d', '#2e3fbd', '#f5a31a'];
const DREME_COLORS = ['#d62028', '#0c7d3d', '#2b3f9c', '#f7a51c'];

// stack letters at each position: smallest at the bottom, tallest on top
function stackLetters(xs, A, T, C, G) {
  const cols = [A, T, C, G];
  const out = [];
  xs.forEach((x, i) => {
    const items = [0, 1, 2, 3].map(k => ({ k, h: cols[k][i] })).filter(o => o.h > 0).sort((a, b) => a.h - b.h);
    let base = 0;
    items.forEach(o => { out.push([x, base, base + o.h, o.k]); base += o.h; });
  });
  return out;
}
function letterRenderer(colors, widthFactors) {
  return function (params, api) {
    const x = api.value(0), y0 = api.value(1), y1 = api.value(2), k = api.value(3);
    const bl = api.coord([x - 0.5, y0]);
    const tr = api.coord([x + 0.5, y1]);
    const h = bl[1] - tr[1];
    if (!(h > 0.35)) return { type: 'group', children: [] };
    const cell = tr[0] - bl[0];
    const w = cell * widthFactors[k] * 0.94;
    return {
      type: 'path',
      shape: { pathData: GLYPHS[k], x: bl[0] + (cell - w) / 2, y: tr[1], width: w, height: h, layout: 'cover' },
      style: { fill: colors[k] }
    };
  };
}

// ---------- axes ----------
function logoX(i) {
  return {
    gridIndex: i, type: 'value', min: -100, max: 20, interval: 5,
    axisLine: { show: true, onZero: false, lineStyle: { color: '#000', width: 1.6 } },
    axisTick: { show: true, length: 11, lineStyle: { color: '#000', width: 1.6 } },
    axisLabel: { customValues: logoTicks, formatter: signed, fontSize: 18, color: INK, margin: 17, fontFamily: FONT, hideOverlap: false },
    splitLine: { show: false }
  };
}
function motifX(i) {
  return {
    gridIndex: i, type: 'value', min: 0.5, max: 6.5,
    axisLine: { show: false, onZero: false }, axisTick: { show: false },
    axisLabel: { customValues: motifPositions, rotate: 90, fontSize: 7, color: '#444', margin: 3, fontFamily: FONT },
    splitLine: { show: false }
  };
}
function motifY(i) {
  return {
    gridIndex: i, type: 'value', min: 0, max: 2, interval: 1,
    axisLine: { show: true, onZero: false, lineStyle: { color: '#555', width: 1 } },
    axisTick: { show: true, length: 3, lineStyle: { color: '#555' } },
    axisLabel: { fontSize: 7, color: '#444', margin: 2, fontFamily: FONT },
    name: 'bits', nameLocation: 'middle', nameGap: 10, nameRotate: 90,
    nameTextStyle: { fontSize: 7, color: '#444', fontFamily: FONT },
    splitLine: { show: false }
  };
}
function compX(i) {
  return {
    gridIndex: i, type: 'value', min: -100, max: 50, interval: 20,
    axisLine: { show: true, onZero: false, lineStyle: { color: '#8c8c8c', width: 1 } },
    axisTick: { show: false },
    axisLabel: { fontSize: 9.5, color: '#404040', margin: 6, fontFamily: FONT, showMaxLabel: false },
    splitLine: { show: false }
  };
}
// the composition y axis sits on position 0: shift it inward from the left edge
const COMP_ZERO_OFFSET = -(100 / 150) * 358.9;
function compY(i) {
  return {
    gridIndex: i, type: 'value', min: 0, max: 70, interval: 10, offset: COMP_ZERO_OFFSET,
    axisLine: { show: true, onZero: false, lineStyle: { color: '#8c8c8c', width: 1 } },
    axisTick: { show: false },
    axisLabel: { fontSize: 9.5, color: '#404040', margin: 3, fontFamily: FONT },
    splitLine: { show: true, lineStyle: { color: '#9a9a9a', width: 1 } }
  };
}

const xAxis = [
  logoX(0), logoX(1), motifX(2), motifX(3),
  {
    gridIndex: 4, type: 'value', min: -101.5, max: 20,
    axisLine: { show: true, onZero: false, lineStyle: { color: '#000', width: 1.5 } },
    axisTick: { show: true, customValues: fiveTicks, length: 8, lineStyle: { color: '#000', width: 1.5 } },
    axisLabel: { customValues: logoTicks, formatter: signed, fontSize: 16, color: INK, margin: 21, fontFamily: FONT, hideOverlap: false },
    splitLine: { show: false }
  },
  compX(5), compX(6),
  {
    gridIndex: 7, type: 'value', min: -90, max: 90, interval: 30,
    axisLine: { show: true, onZero: false, lineStyle: { color: '#868686', width: 1 } },
    axisTick: { show: true, length: 4, lineStyle: { color: '#868686' } },
    axisLabel: { fontSize: 11, color: '#404040', margin: 8, fontFamily: FONT },
    splitLine: { show: false }
  }
];
const yAxis = [
  { gridIndex: 0, type: 'value', min: -0.09, max: 1.6, show: false },
  { gridIndex: 1, type: 'value', min: -0.09, max: 1.6, show: false },
  motifY(2), motifY(3),
  {
    gridIndex: 4, type: 'value', min: 0, max: 12, interval: 2,
    axisLine: { show: true, onZero: false, lineStyle: { color: '#000', width: 1.5 } },
    axisTick: { show: true, length: 7, lineStyle: { color: '#000', width: 1.5 } },
    axisLabel: { fontSize: 16, color: INK, margin: 10, fontFamily: FONT },
    splitLine: { show: false }
  },
  compY(5), compY(6),
  {
    gridIndex: 7, type: 'value', min: 0, max: 12, interval: 2,
    axisLine: { show: true, onZero: false, lineStyle: { color: '#868686', width: 1 } },
    axisTick: { show: true, length: 4, lineStyle: { color: '#868686' } },
    axisLabel: { fontSize: 11, color: '#404040', margin: 8, fontFamily: FONT },
    splitLine: { show: false }
  }
];

const grid = [
  { left: 34, top: 33, width: 828, height: 169 },
  { left: 34, top: 265, width: 828, height: 169 },
  { left: 905, top: 81, width: 97, height: 135 },
  { left: 905, top: 308, width: 97, height: 135 },
  { left: 130.3, top: 528.3, width: 759, height: 238.4 },
  { left: 116.7, top: 828, width: 358.9, height: 326.3 },
  { left: 511.7, top: 831, width: 358.9, height: 322.3 },
  { left: 127.7, top: 1247.7, width: 440, height: 288 }
].map(g => Object.assign({ outerBoundsMode: 'none', containLabel: false }, g));

// ---------- series ----------
const series = [];
const flat = [1, 1, 1, 1];
series.push({ type: 'custom', xAxisIndex: 0, yAxisIndex: 0, silent: true, encode: { x: 0, y: [1, 2] },
  renderItem: letterRenderer(LOGO_COLORS, flat), data: stackLetters(pos121, mrnaLogoA, mrnaLogoT, mrnaLogoC, mrnaLogoG) });
series.push({ type: 'custom', xAxisIndex: 1, yAxisIndex: 1, silent: true, encode: { x: 0, y: [1, 2] },
  renderItem: letterRenderer(LOGO_COLORS, flat), data: stackLetters(pos121, sutLogoA, sutLogoT, sutLogoC, sutLogoG) });
const dremeWidths = [0.8, 1, 1.06, 0.96];
series.push({ type: 'custom', xAxisIndex: 2, yAxisIndex: 2, silent: true, encode: { x: 0, y: [1, 2] },
  renderItem: letterRenderer(DREME_COLORS, dremeWidths), data: stackLetters(motifPositions, motif1A, motif1T, motif1C, motif1G) });
series.push({ type: 'custom', xAxisIndex: 3, yAxisIndex: 3, silent: true, encode: { x: 0, y: [1, 2] },
  renderItem: letterRenderer(DREME_COLORS, dremeWidths), data: stackLetters(motifPositions, motif2A, motif2T, motif2C, motif2G) });

function bLine(name, values, color, dashed) {
  return {
    name, type: 'line', xAxisIndex: 4, yAxisIndex: 4, symbol: 'none', silent: true,
    data: zipXY(pos121, values),
    lineStyle: { color, width: 2, type: dashed ? [7, 4] : 'solid' },
    itemStyle: { color }
  };
}
series.push(bLine('TATATA mRNAs', tatataMrna, '#27a9e1', false));
series.push(bLine('AATAAA mRNAs', aataaaMrna, '#f26b4f', false));
series.push(bLine('TATATA SUTs', tatataSut, '#1c2a5c', true));
series.push(bLine('AATAAA SUTs', aataaaSut, '#e2202a', true));

const NT_COLORS = { T: '#c1272d', A: '#8cc63f', G: '#5d3e8c', C: '#29abe2' };
function compLine(name, axis, data, smooth) {
  return { name, type: 'line', xAxisIndex: axis, yAxisIndex: axis, symbol: 'none', silent: true, z: 3,
    smooth: smooth, data, lineStyle: { color: NT_COLORS[name], width: 3.2 }, itemStyle: { color: NT_COLORS[name] } };
}
function compDots(name, axis, values, size) {
  return { name, type: 'scatter', xAxisIndex: axis, yAxisIndex: axis, silent: true, z: 2, clip: true,
    symbol: 'circle', symbolSize: size, data: zipXY(pos151, values), itemStyle: { color: NT_COLORS[name], opacity: 0.9 } };
}
series.push(compLine('T', 5, mrnaLineT, 0.3), compLine('A', 5, mrnaLineA, 0.3), compLine('G', 5, mrnaLineG, 0.3), compLine('C', 5, mrnaLineC, 0.3));
series.push(compLine('T', 6, zipXY(pos151, sutLineT), false), compLine('A', 6, zipXY(pos151, sutLineA), false),
  compLine('G', 6, zipXY(pos151, sutLineG), false), compLine('C', 6, zipXY(pos151, sutLineC), false));
series.push(compDots('T', 5, mrnaDotT, 3), compDots('A', 5, mrnaDotA, 3), compDots('G', 5, mrnaDotG, 3), compDots('C', 5, mrnaDotC, 4));
series.push(compDots('T', 6, sutDotT, 3), compDots('A', 6, sutDotA, 3), compDots('G', 6, sutDotG, 3), compDots('C', 6, sutDotC, 4));

const D_NAMES = [
  'SUTs mapped in this study (coordinates obtained in this study)',
  'SUTs mapped in this study (Xu et al 2009 coordinates)',
  'CUTs (Xu et al 2009 coordinates)',
  'mRNAs (Xu et al 2009 coordinates)',
  'mRNAs (coordinates obtained in this study)'
];
function dLine(name, data, color, z) {
  return { name, type: 'line', xAxisIndex: 7, yAxisIndex: 7, symbol: 'none', silent: true, z,
    data, lineStyle: { color, width: 1.5 }, itemStyle: { color } };
}
series.push(dLine(D_NAMES[2], cutsXu, '#9a9a9a', 2));
series.push(dLine(D_NAMES[3], mrnasXu, '#ffc000', 3));
series.push(dLine(D_NAMES[1], sutsXu, '#2aa9e0', 4));
series.push(dLine(D_NAMES[0], sutsThisStudy, '#12305e', 5));
series.push(dLine(D_NAMES[4], mrnasThisStudy, '#e2231a', 6));

// ---------- legends (plain line keys, no markers) ----------
function legendBox(names, left, top, itemWidth, fontSize, itemGap, color, lineWidth) {
  const box = {
    data: names, left, top, orient: 'vertical', padding: 0, selectedMode: false,
    itemWidth, itemHeight: 14, itemGap: itemGap || 10,
    itemStyle: { opacity: 0 },
    textStyle: { color: color || INK, fontFamily: FONT, fontSize }
  };
  if (lineWidth) box.lineStyle = { width: lineWidth };
  return box;
}
const legend = [
  legendBox(['TATATA mRNAs'], 706, 566, 27, 18),
  legendBox(['AATAAA mRNAs'], 706, 606, 27, 18),
  legendBox(['TATATA SUTs'], 706, 641, 27, 18),
  legendBox(['AATAAA SUTs'], 706, 679, 27, 18),
  legendBox(['T', 'A', 'G', 'C'], 905, 874, 39, 16, 20, INK, 4),
  legendBox(D_NAMES, 625, 1268, 24, 15, 8, '#333')
];

// ---------- free text ----------
function label(text, x, y, size, opt) {
  opt = opt || {};
  return {
    type: 'text', x, y, rotation: opt.rot || 0, z: 50, silent: true,
    style: { text, fontSize: size, fontFamily: FONT, fontWeight: opt.bold ? 'bold' : 'normal',
      fill: opt.fill || INK, align: opt.align || 'left', verticalAlign: 'middle' }
  };
}
const graphic = [
  label('A', 10, 23, 25, { bold: true }),
  label('B', 11, 504, 25, { bold: true }),
  label('C', 11, 839, 25, { bold: true }),
  label('D', 10, 1225, 25, { bold: true }),
  label('94.8 % As for \u201clast encoded\u201d position', 456, 58, 15),
  label('Sequence logo of 5251 mRNA 3\u2019 ends', 66, 85, 19),
  label('AT-rich region for ~80 nt upstream', 331, 151, 15),
  label('Top motif (DREME)', 953, 25, 15, { bold: true, align: 'center' }),
  label('Present in 2890 P=3.2e-204', 952, 53, 15, { align: 'center' }),
  label('92.5 % As for \u201clast encoded\u201d position', 456, 290, 15),
  label('Sequence logo of 199 SUT 3\u2019 ends', 82, 302, 19),
  label('AT-rich region for ~80 nt upstream', 308, 364, 15),
  label('Present in 99 P=1.2e-8', 957, 286, 15, { align: 'center' }),
  label('Distribution of motifs flanking mRNA and SUT 3\u2019 ends', 162, 522, 16),
  label('Motif abundance (%)', 88, 627, 17, { rot: Math.PI / 2, align: 'center' }),
  label('%', 320, 846, 17, { align: 'center' }),
  label('mRNAs', 156, 896, 29),
  label('%', 715, 852, 17, { align: 'center' }),
  label('SUTs', 543, 896, 29),
  label('TATATA motifs flanking 3\u2019 ends annotated by various studies', 178, 1232, 16),
  label('%', 88, 1261, 18, { align: 'center' })
];

const chart = echarts.init(document.getElementById('chart'), null, { renderer: 'canvas', width: 1054, height: 1560 });
chart.setOption({
  animation: false,
  backgroundColor: '#ffffff',
  textStyle: { fontFamily: FONT },
  grid, xAxis, yAxis, series, legend, graphic
});
</script>
</body>
</html>
